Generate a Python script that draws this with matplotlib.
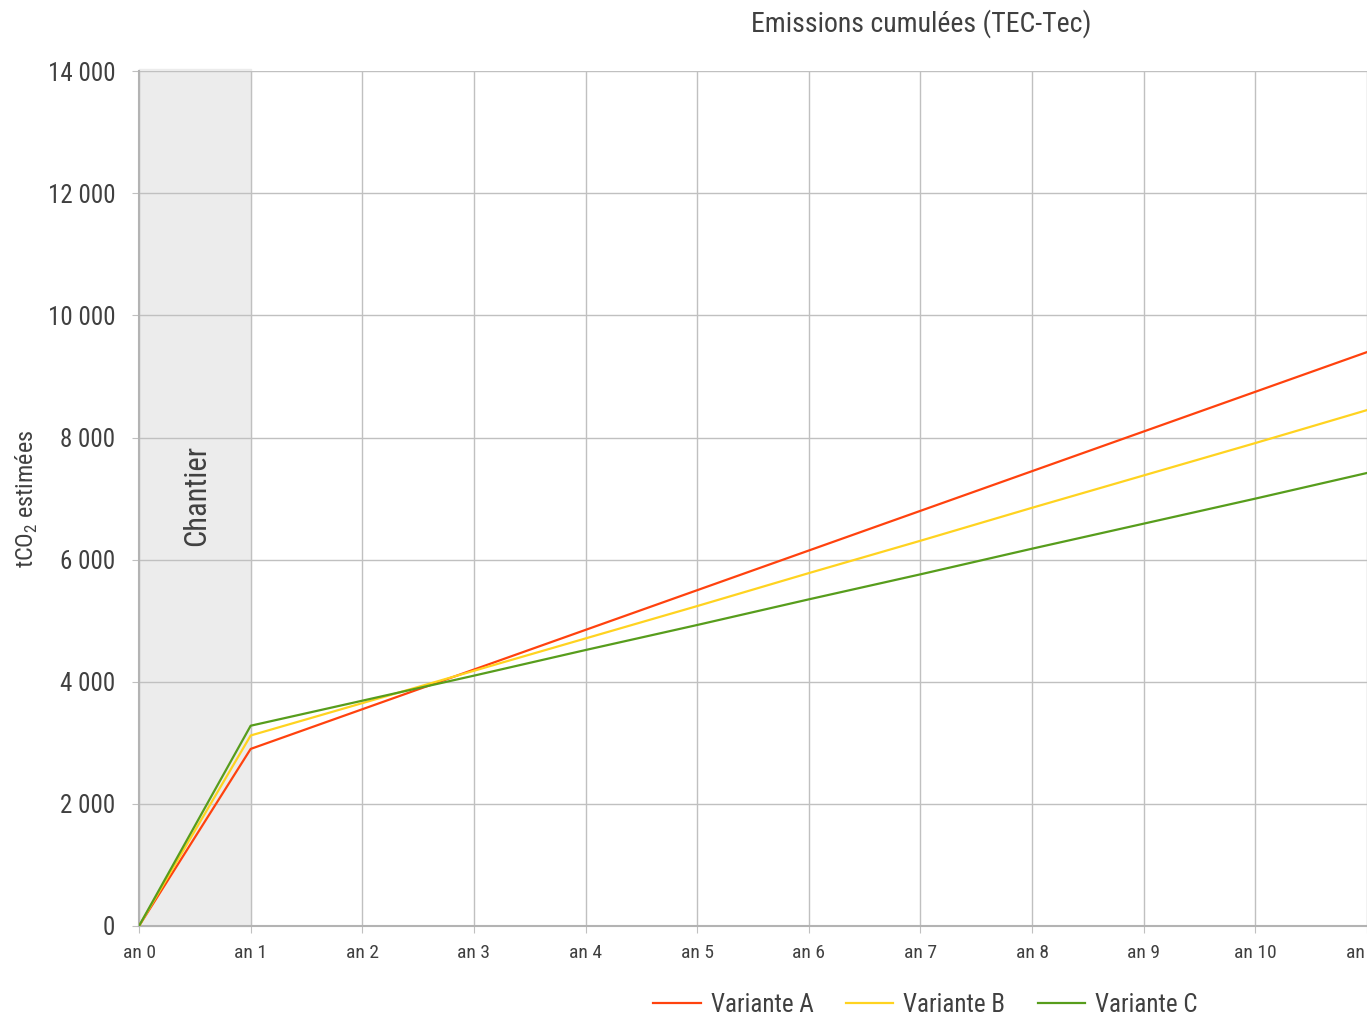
import matplotlib
matplotlib.use('Agg')
import matplotlib.pyplot as plt

# Data
years = [0, 1, 2, 3, 4, 5, 6, 7, 8, 9, 10, 11]
year_labels = ['an 0', 'an 1', 'an 2', 'an 3', 'an 4', 'an 5', 'an 6',
               'an 7', 'an 8', 'an 9', 'an 10', 'an 11']
variante_a = [0, 2900, 3550, 4200, 4850, 5500, 6150, 6800, 7450, 8100, 8750, 9400]
variante_b = [0, 3120, 3650, 4180, 4710, 5240, 5780, 6310, 6850, 7380, 7910, 8450]
variante_c = [0, 3280, 3690, 4100, 4520, 4930, 5350, 5760, 6180, 6590, 7000, 7420]
y_ticks = [0, 2000, 4000, 6000, 8000, 10000, 12000, 14000]
y_tick_labels = ['0', '2 000', '4 000', '6 000', '8 000', '10 000', '12 000', '14 000']

plt.rcParams['font.family'] = ['Roboto Condensed', 'DejaVu Sans']
plt.rcParams['mathtext.fontset'] = 'custom'
plt.rcParams['mathtext.rm'] = 'Roboto Condensed'

text_color = '#404040'
grid_color = '#c0c0c0'

fig = plt.figure(figsize=(13.67, 10.18), dpi=100)
ax = fig.add_axes([0.1017, 0.0904, 0.8983, 0.8396])

# construction period shading
ax.axvspan(0, 1, ymin=0, ymax=1.003, color='#ececec', zorder=0, clip_on=False)

ax.plot(years, variante_a, color='#ff420e', lw=1.6, label='Variante A', zorder=3)
ax.plot(years, variante_b, color='#ffd320', lw=1.6, label='Variante B', zorder=3)
ax.plot(years, variante_c, color='#579d1c', lw=1.6, label='Variante C', zorder=3)

ax.set_xlim(0, 11)
ax.set_ylim(0, 14000)
ax.set_xticks(years)
ax.set_xticklabels(year_labels)
ax.set_yticks(y_ticks)
ax.set_yticklabels(y_tick_labels)

ax.grid(True, color=grid_color, lw=1.0, zorder=1)
ax.set_axisbelow(True)
for side in ['top', 'right']:
    ax.spines[side].set_visible(False)
for side in ['left', 'bottom']:
    ax.spines[side].set_color('#b3b3b3')
    ax.spines[side].set_linewidth(1.5)

ax.tick_params(axis='y', length=5, color=grid_color, labelsize=18,
               labelcolor=text_color, pad=12)
ax.tick_params(axis='x', length=5, color=grid_color, labelsize=14,
               labelcolor=text_color, pad=8)

ax.set_ylabel(r'tCO$_{\mathrm{2}}$ estimées', fontsize=17.5, color=text_color, va='center')
ax.yaxis.set_label_coords(-0.091, 0.5)
ax.text(0.52, 7050, 'Chantier', rotation=90, fontsize=22, color=text_color,
        ha='center', va='center')

fig.text(0.674, 0.977, 'Emissions cumulées (TEC-Tec)', fontsize=20,
         color=text_color, ha='center', va='center')

leg = fig.legend(loc='center', bbox_to_anchor=(0.677, 0.013), ncol=3, frameon=False,
                 fontsize=18, handlelength=1.9, handletextpad=0.4, columnspacing=1.3)
for t in leg.get_texts():
    t.set_color(text_color)

fig.savefig('out.png', dpi=100)
